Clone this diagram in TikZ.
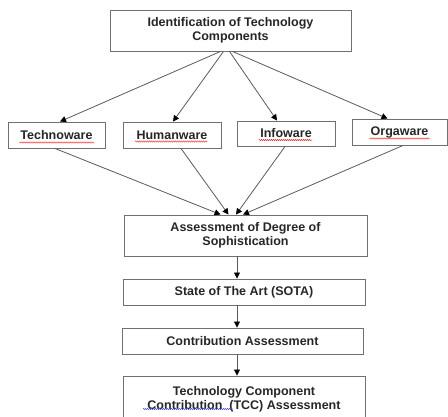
\documentclass[tikz,border=0pt]{standalone}
\usepackage{fontspec}
\setmainfont{Liberation Sans}
\usetikzlibrary{arrows.meta,calc,decorations.pathmorphing}
\definecolor{edgegray}{HTML}{5A5A5A}
\definecolor{boxgray}{HTML}{707070}
\tikzset{
  box/.style={draw=boxgray, line width=0.9pt, rectangle, align=center, inner sep=0pt,
    font=\fontsize{12.5}{14}\selectfont\bfseries, text=black!85},
  link/.style={draw=edgegray, line width=0.8pt, -{Triangle[width=6pt,length=6pt,fill=black,color=black]}},
  spell/.style={draw=red!85, line width=0.5pt, decorate, decoration={snake, amplitude=0.6pt, segment length=2pt}},
  spellb/.style={draw=blue!70, line width=0.5pt, decorate, decoration={snake, amplitude=0.6pt, segment length=2pt}}
}
\begin{document}
\begin{tikzpicture}[x=1pt,y=-1pt]
\useasboundingbox (0,0) rectangle (448,416);
\node[box, minimum width=241pt, minimum height=41pt] (top) at (230.5,30.5) {Identification of Technology\\Components};
\node[box, minimum width=97pt, minimum height=26pt] (tw) at (56.5,135) {Technoware};
\node[box, minimum width=98pt, minimum height=26pt] (hw) at (172,135) {Humanware};
\node[box, minimum width=98pt, minimum height=25pt] (iw) at (286,133.5) {Infoware};
\node[box, minimum width=95pt, minimum height=26pt] (ow) at (399.5,132) {Orgaware};
\node[box, minimum width=243pt, minimum height=41pt] (ads) at (245.5,235.5) {Assessment of Degree of\\Sophistication};
\node[box, minimum width=242pt, minimum height=26pt] (sota) at (244,292) {State of The Art (SOTA)};
\node[box, minimum width=241pt, minimum height=26pt] (ca) at (242.5,341) {Contribution Assessment};
\node[box, minimum width=242pt, minimum height=46pt] (tcc) at (244,399) {Technology Component\\Contribution\ \ (TCC) Assessment};

\draw[link] ([xshift=-10pt]top.south) -- ([xshift=3.5pt]tw.north);
\draw[link] ([xshift=-7pt]top.south) -- ([xshift=1pt]hw.north);
\draw[link] ([xshift=-1pt]top.south) -- ([xshift=-9pt]iw.north);
\draw[link] ([xshift=2pt]top.south) -- ([xshift=-12pt]ow.north);

\draw[link] ([xshift=-1.5pt]tw.south) -- ([xshift=-25pt]ads.north);
\draw[link] ([xshift=9pt]hw.south) -- ([xshift=-17pt]ads.north);
\draw[link] ([xshift=-1pt]iw.south) -- ([xshift=-9.5pt]ads.north);
\draw[link] ([xshift=3.5pt]ow.south) -- ([xshift=-2.5pt]ads.north);

\draw[link] ([xshift=-8.5pt]ads.south) -- ([xshift=-7pt]sota.north);
\draw[link] ([xshift=-7pt]sota.south) -- ([xshift=-5.5pt]ca.north);
\draw[link] ([xshift=-5.5pt]ca.south) -- ([xshift=-7pt]tcc.north);

\draw[spell] ($(tw.center)+(-37,7.5)$) -- ($(tw.center)+(37.5,7.5)$);
\draw[spell] ($(hw.center)+(-37,6.5)$) -- ($(hw.center)+(35,6.5)$);
\draw[spell] ($(iw.center)+(-27,6.5)$) -- ($(iw.center)+(26,6.5)$);
\draw[spell] ($(ow.center)+(-30,6.5)$) -- ($(ow.center)+(30,6.5)$);
\draw[spellb] ($(tcc.center)+(-101,10)$) -- ($(tcc.center)+(-11,10)$);
\end{tikzpicture}
\end{document}
